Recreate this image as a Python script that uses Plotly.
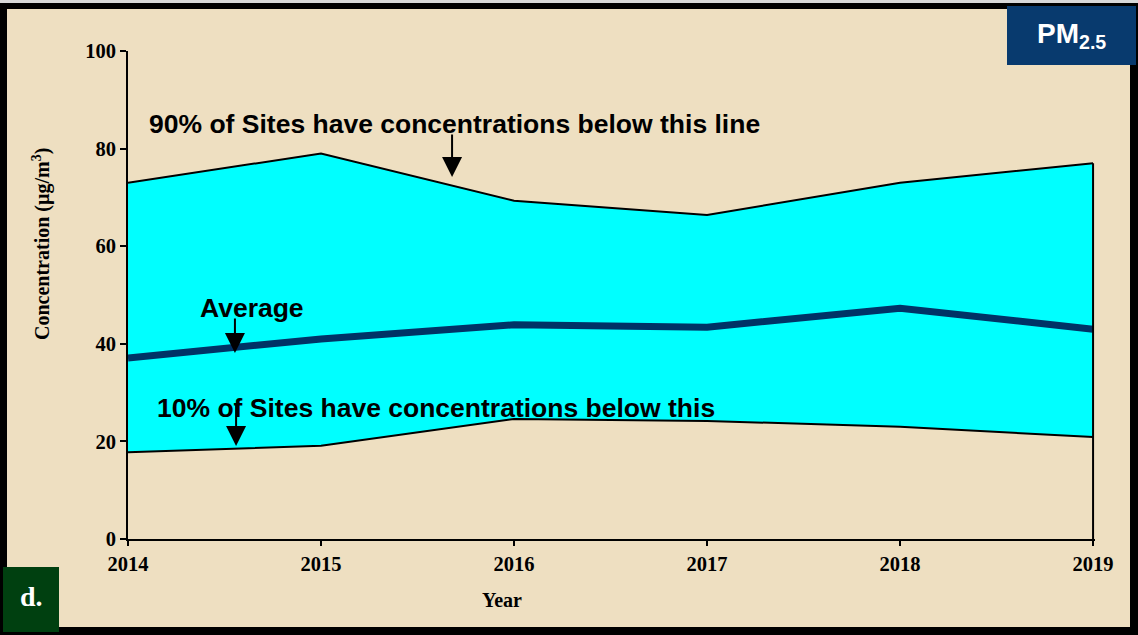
import plotly.graph_objects as go

# ---- data ----
years = [2014, 2015, 2016, 2017, 2018, 2019]
p90 = [73.0, 79.0, 69.3, 66.4, 73.0, 77.0]
avg = [37.1, 41.0, 43.9, 43.4, 47.3, 43.0]
p10 = [17.8, 19.1, 24.6, 24.2, 23.0, 20.9]
y_ticks = [0, 20, 40, 60, 80, 100]

label_90 = "90% of Sites have concentrations below this line"
label_avg = "Average"
label_10 = "10% of Sites have concentrations below this"

# ---- layout geometry ----
W, H = 1138, 635
L, R, T, B = 128, 43, 51, 96
PW, PH = W - L - R, H - T - B


def px(xp):
    return (xp - L) / PW


def py(yp):
    return (H - B - yp) / PH


CYAN = "#00FFFF"
NAVY = "#003366"
BEIGE = "#eedfc1"
SERIF = "Liberation Serif"
SANS = "Liberation Sans"

fig = go.Figure()

fig.add_trace(go.Scatter(x=years, y=p10, mode="lines",
                         line=dict(color="black", width=2), showlegend=False,
                         hoverinfo="skip"))
fig.add_trace(go.Scatter(x=years, y=p90, mode="lines", fill="tonexty",
                         fillcolor=CYAN, line=dict(color="black", width=2),
                         showlegend=False, hoverinfo="skip"))
fig.add_trace(go.Scatter(x=years, y=avg, mode="lines",
                         line=dict(color=NAVY, width=7), showlegend=False))
# right-hand edge of the area at the last year
fig.add_trace(go.Scatter(x=[years[-1], years[-1]], y=[0, p90[-1]], mode="lines",
                         line=dict(color="black", width=2), showlegend=False,
                         hoverinfo="skip"))

shapes = [
    # parchment panel inside the black frame
    dict(type="rect", xref="paper", yref="paper", layer="below",
         x0=px(7), x1=px(1130), y0=py(627), y1=py(9),
         fillcolor=BEIGE, line=dict(width=0)),
    # light strip at very top
    dict(type="rect", xref="paper", yref="paper", layer="below",
         x0=px(0), x1=px(1138), y0=py(3), y1=py(0),
         fillcolor="#d8d8d8", line=dict(width=0)),
    # PM2.5 box
    dict(type="rect", xref="paper", yref="paper", layer="above",
         x0=px(1007), x1=px(1136), y0=py(65), y1=py(6),
         fillcolor="#083a6e", line=dict(width=0)),
    # d. box
    dict(type="rect", xref="paper", yref="paper", layer="above",
         x0=px(3), x1=px(59), y0=py(632), y1=py(567),
         fillcolor="#004010", line=dict(width=0)),
]

ann_font = dict(family=SANS, size=26.5, color="black", weight="bold")
annotations = [
    dict(text=label_90, x=2014.098, y=85.0, xref="x", yref="y",
         xanchor="left", yanchor="middle", showarrow=False, font=ann_font),
    dict(text=label_avg, x=2014.642, y=47.3, xref="x", yref="y",
         xanchor="center", yanchor="middle", showarrow=False, font=ann_font),
    dict(text=label_10, x=2014.14, y=26.8, xref="x", yref="y",
         xanchor="left", yanchor="middle", showarrow=False, font=ann_font),
    # arrows
    dict(text="", x=2015.679, y=74.2, xref="x", yref="y", showarrow=True,
         ax=0, ay=-44, arrowhead=2, arrowsize=2, arrowwidth=2, arrowcolor="black"),
    dict(text="", x=2014.554, y=38.1, xref="x", yref="y", showarrow=True,
         ax=0, ay=-36, arrowhead=2, arrowsize=2, arrowwidth=2, arrowcolor="black"),
    dict(text="", x=2014.56, y=19.06, xref="x", yref="y", showarrow=True,
         ax=0, ay=-43, arrowhead=2, arrowsize=2, arrowwidth=2, arrowcolor="black"),
    # axis titles
    dict(text="Concentration (µg/m<sup>3</sup>)", x=px(42), y=py(244),
         xref="paper", yref="paper", textangle=-90, showarrow=False,
         xanchor="center", yanchor="middle",
         font=dict(family=SERIF, size=20, color="black", weight="bold")),
    dict(text="Year", x=px(502), y=py(600), xref="paper", yref="paper",
         showarrow=False, xanchor="center", yanchor="middle",
         font=dict(family=SERIF, size=20, color="black", weight="bold")),
    # badges
    dict(text="PM<sub>2.5</sub>", x=px(1071), y=py(36), xref="paper", yref="paper",
         showarrow=False, xanchor="center", yanchor="middle",
         font=dict(family=SANS, size=28, color="white", weight="bold")),
    dict(text="d.", x=px(31), y=py(596), xref="paper", yref="paper",
         showarrow=False, xanchor="center", yanchor="middle",
         font=dict(family=SERIF, size=28, color="white", weight="bold")),
]

tick_font = dict(family=SERIF, size=20.5, color="black", weight="bold")

fig.update_layout(
    width=W, height=H,
    margin=dict(l=L, r=R, t=T, b=B, pad=0),
    paper_bgcolor="black",
    plot_bgcolor="rgba(0,0,0,0)",
    showlegend=False,
    hovermode=False,
    shapes=shapes,
    annotations=annotations,
    xaxis=dict(range=[years[0], years[-1] + 0.01], tickvals=years,
               ticktext=[str(y) for y in years], showgrid=False, zeroline=False,
               showline=True, linecolor="black", linewidth=2,
               ticks="outside", ticklen=5, tickwidth=2, tickcolor="black",
               tickfont=tick_font),
    yaxis=dict(range=[0, 100], tickvals=y_ticks, showgrid=False, zeroline=False,
               showline=True, linecolor="black", linewidth=2,
               ticks="outside", ticklen=6, tickwidth=2, tickcolor="black",
               tickfont=tick_font),
)

fig.write_html(
    "out.html",
    config={"displayModeBar": False, "staticPlot": True},
    post_script="document.body.style.margin='0';document.body.style.overflow='hidden';",
)
